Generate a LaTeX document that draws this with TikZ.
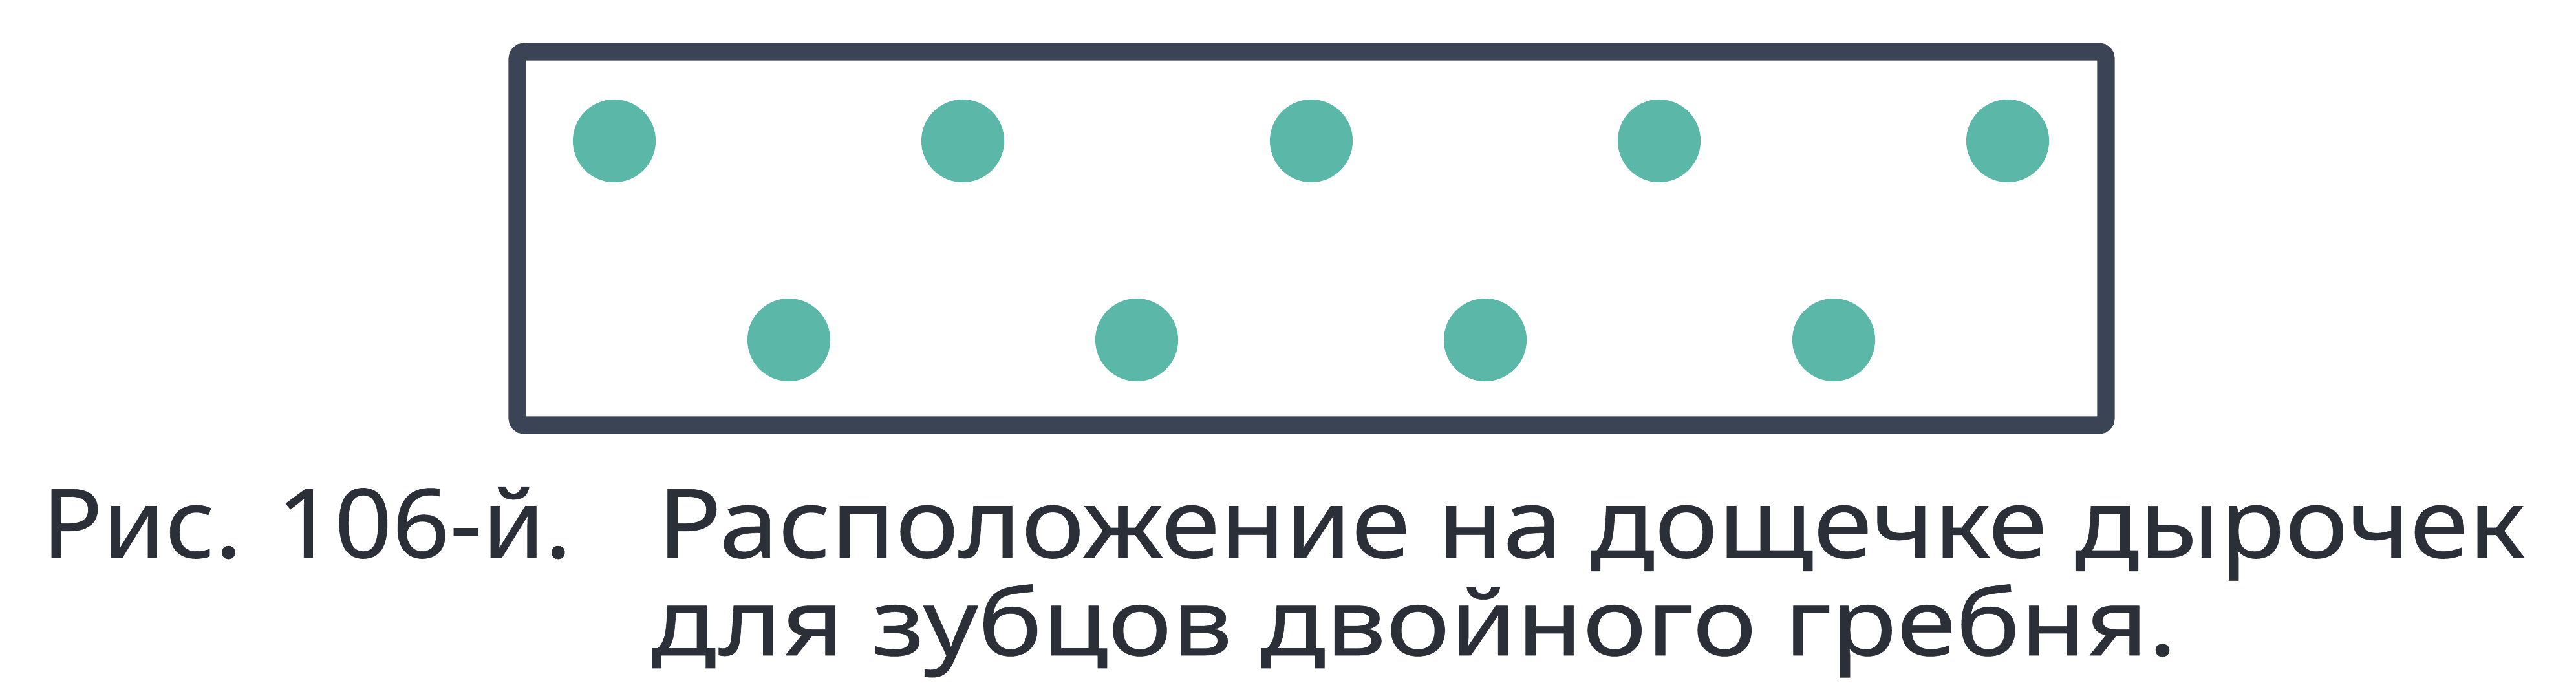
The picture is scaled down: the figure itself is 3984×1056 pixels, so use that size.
\documentclass[tikz,border=0pt]{standalone}
\usepackage{fontspec}
\setmainfont{Noto Sans}[FakeBold=0.4]
\definecolor{frame}{HTML}{3B4455}
\definecolor{hole}{HTML}{5BB8A8}
\definecolor{ink}{HTML}{2B2F38}
\begin{document}
\begin{tikzpicture}[x=0.01cm,y=-0.01cm,
  board/.style={draw=frame,line width=7.7pt,rounded corners=3pt},
  holedot/.style={circle,fill=hole,minimum size=1.28cm,inner sep=0pt},
  caption/.style={font=\fontsize{42.2}{46.7}\selectfont,text=ink,inner sep=0pt,anchor=base west}]
\useasboundingbox (0,0) rectangle (3984,1056);
\draw[board] (800,80) rectangle (3257,658);
\foreach \i/\x in {1/950,2/1489,3/2028,4/2566,5/3105}
  \node[holedot] (t\i) at (\x,218) {};
\foreach \i/\x in {1/1220,2/1758,3/2297,4/2836}
  \node[holedot] (b\i) at (\x,526) {};
\node[caption] (fig) at (64,863) {\scalebox{1.05}[1]{Рис. 106-й.}};
\node[caption] (l1) at (1016,863) {\scalebox{1.11}[1]{Расположение на дощечке дырочек}};
\node[caption] (l2) at (1006,1014) {\scalebox{1.12}[0.96]{для зубцов двойного гребня.}};
\end{tikzpicture}
\end{document}
